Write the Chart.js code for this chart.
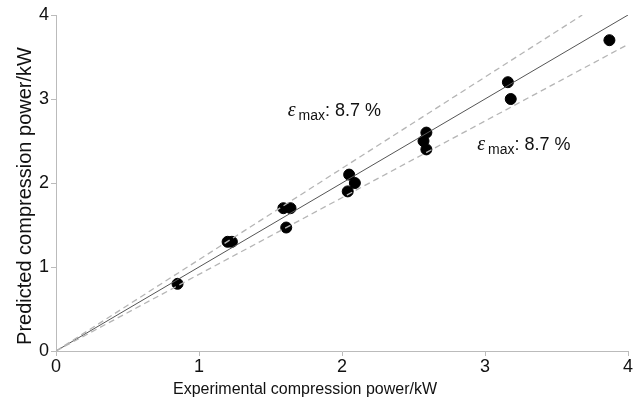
<!DOCTYPE html>
<html>
<head>
<meta charset="utf-8">
<script src="https://cdn.jsdelivr.net/npm/chart.js@4.4.0/dist/chart.umd.min.js"></script>
<style>
  html, body { margin: 0; padding: 0; background: #fff; }
  #wrap { width: 644px; height: 404px; }
</style>
</head>
<body>
<div id="wrap"><canvas id="c" width="644" height="404"></canvas></div>
<script>
// measured values (kW)
const experimental = [0.85, 1.20, 1.23, 1.59, 1.64, 1.61, 2.05, 2.04, 2.09, 2.57, 2.59, 2.59, 3.16, 3.18, 3.87];
const predicted    = [0.80, 1.30, 1.30, 1.70, 1.70, 1.47, 2.10, 1.90, 2.00, 2.50, 2.60, 2.40, 3.20, 3.00, 3.70];

// reference lines
const idealX = [0, 4], idealY = [0, 4];
const upperX = [0, 3.68], upperY = [0, 4];
const lowerX = [0, 4], lowerY = [0, 3.65];

const axisTicks = [0, 1, 2, 3, 4];
const xTitle = 'Experimental compression power/kW';
const yTitle = 'Predicted compression power/kW';
const labelText = ['ε', 'max', ': 8.7 %'];
const labelPos = [[1.62, 2.80], [2.945, 2.39]];

const pts = (xs, ys) => xs.map((x, i) => ({ x: x, y: ys[i] }));

const FAMILY = '"Liberation Sans", Arial, sans-serif';

const textPlugin = {
  id: 'texts',
  afterDatasetsDraw(chart) {
    const ctx = chart.ctx;
    const xs = chart.scales.x, ys = chart.scales.y;
    const a = chart.chartArea;
    ctx.save();
    ctx.fillStyle = '#111';
    ctx.textBaseline = 'alphabetic';
    ctx.textAlign = 'left';
    labelPos.forEach(p => {
      let px = xs.getPixelForValue(p[0]);
      const py = ys.getPixelForValue(p[1]);
      ctx.font = 'italic 20px "Liberation Serif"';
      ctx.fillText(labelText[0], px, py);
      px += ctx.measureText(labelText[0]).width + 3;
      ctx.font = '14px "Liberation Sans"';
      ctx.fillText(labelText[1], px, py + 4);
      px += ctx.measureText(labelText[1]).width;
      ctx.font = '18px "Liberation Sans"';
      ctx.fillText(labelText[2], px, py);
    });

    // axis titles
    ctx.textAlign = 'center';
    ctx.textBaseline = 'middle';
    ctx.font = '16px ' + FAMILY;
    ctx.fillText(xTitle, (a.left + a.right) / 2 - 37, 390);
    ctx.translate(25, (a.top + a.bottom) / 2 + 13);
    ctx.rotate(-Math.PI / 2);
    ctx.font = '20px ' + FAMILY;
    ctx.fillText(yTitle, 0, 0);
    ctx.restore();
  }
};

const tickFont = { family: FAMILY, size: 18 };

new Chart(document.getElementById('c'), {
  type: 'scatter',
  data: {
    datasets: [
      { type: 'line', data: pts(upperX, upperY), borderColor: '#b5b5b5', borderWidth: 1.3, borderDash: [6, 4], pointRadius: 0, fill: false },
      { type: 'line', data: pts(lowerX, lowerY), borderColor: '#b5b5b5', borderWidth: 1.3, borderDash: [6, 4], pointRadius: 0, fill: false },
      { type: 'line', data: pts(idealX, idealY), borderColor: '#555', borderWidth: 1, pointRadius: 0, fill: false },
      { data: pts(experimental, predicted), backgroundColor: '#000', borderColor: '#000', pointRadius: 5.5, pointHoverRadius: 5.5 }
    ]
  },
  options: {
    responsive: false,
    animation: false,
    events: [],
    layout: { padding: { left: 0, right: 16, top: 15, bottom: 0 } },
    plugins: { legend: { display: false }, tooltip: { enabled: false } },
    scales: {
      x: {
        type: 'linear', min: 0, max: 4,
        afterBuildTicks: s => { s.ticks = axisTicks.map(v => ({ value: v })); },
        afterFit: s => { s.height = 53; },
        grid: { drawOnChartArea: false, drawTicks: true, tickLength: 5, color: '#bbb' },
        border: { color: '#bbb' },
        ticks: { color: '#111', font: tickFont, padding: 0, maxRotation: 0 },
        title: { display: false }
      },
      y: {
        type: 'linear', min: 0, max: 4,
        afterBuildTicks: s => { s.ticks = axisTicks.map(v => ({ value: v })); },
        afterFit: s => { s.width = 56; },
        grid: { drawOnChartArea: false, drawTicks: true, tickLength: 5, color: '#bbb' },
        border: { color: '#bbb' },
        ticks: { color: '#111', font: tickFont, padding: 2 },
        title: { display: false }
      }
    }
  },
  plugins: [textPlugin]
});
</script>
</body>
</html>
